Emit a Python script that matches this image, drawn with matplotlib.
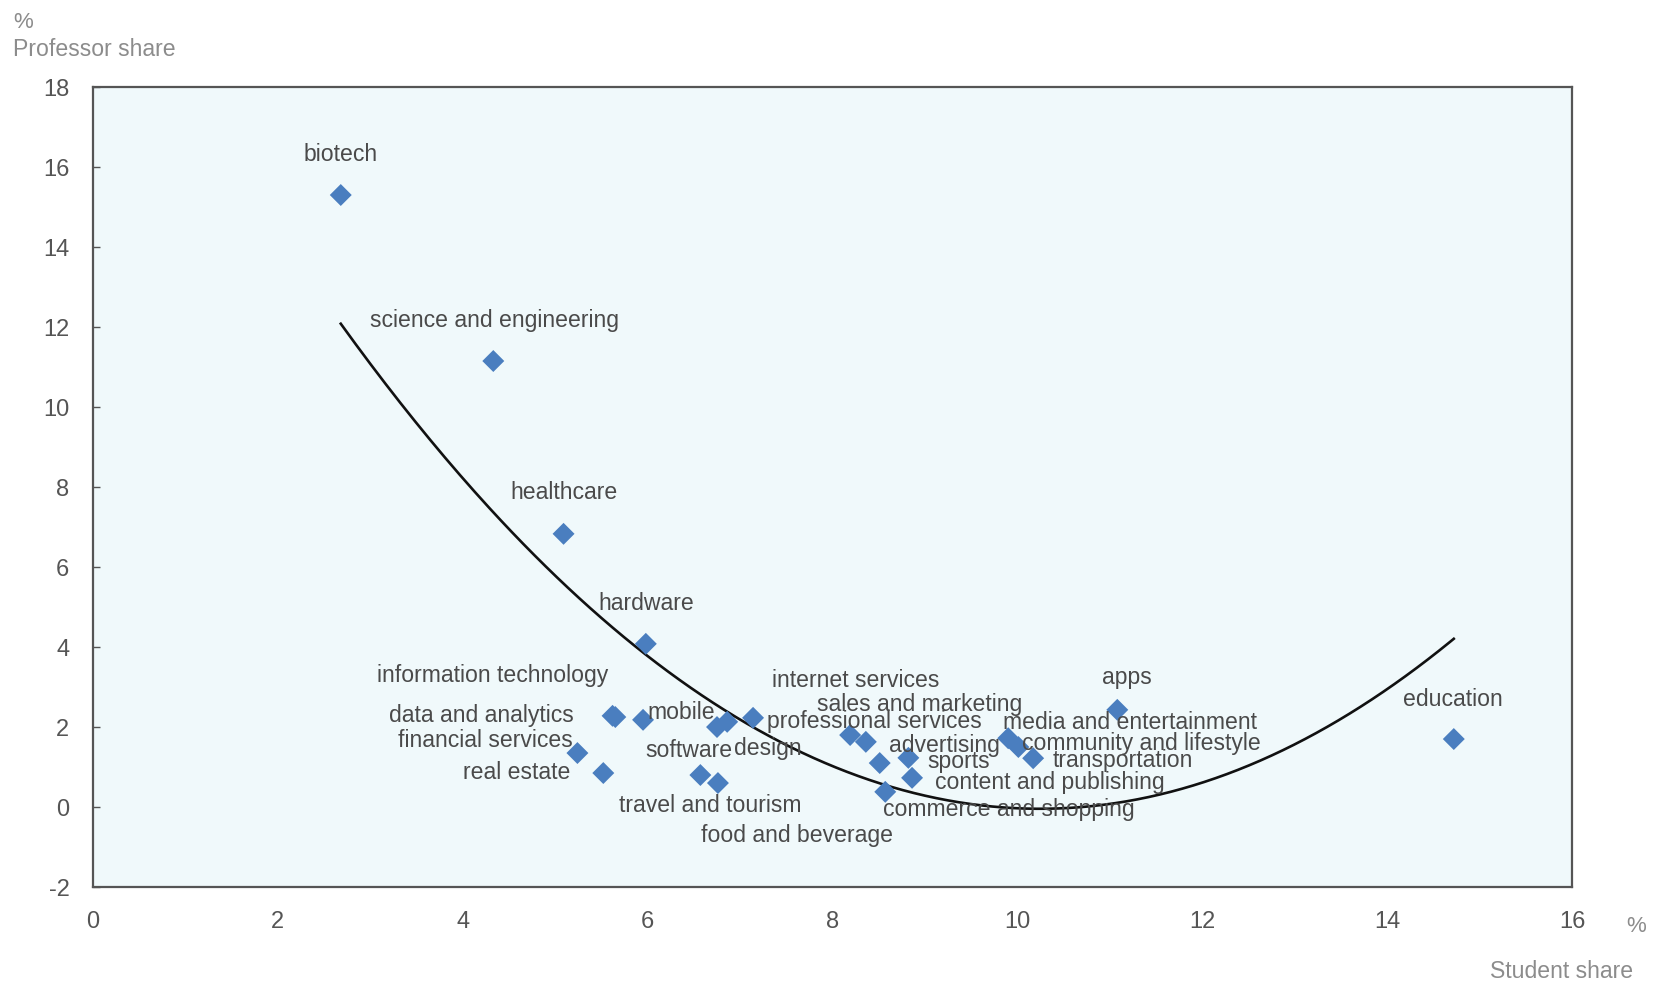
#!/usr/bin/env python3
import matplotlib
matplotlib.use("Agg")
import matplotlib.pyplot as plt
import numpy as np

# sector shares (%)
sectors = [
    "biotech", "science and engineering", "healthcare", "hardware",
    "information technology", "data and analytics", "financial services",
    "real estate", "mobile", "software", "design", "professional services",
    "travel and tourism", "food and beverage", "internet services",
    "sales and marketing", "advertising", "sports", "content and publishing",
    "commerce and shopping", "media and entertainment",
    "community and lifestyle", "transportation", "apps", "education",
]
student_share = [
    2.68, 4.33, 5.09, 5.98,
    5.62, 5.65, 5.24,
    5.52, 5.95, 6.75, 6.86, 7.14,
    6.57, 6.76, 8.19,
    8.36, 8.51, 8.82, 8.86,
    8.57, 9.90,
    10.01, 10.17, 11.08, 14.72,
]
professor_share = [
    15.30, 11.15, 6.83, 4.08,
    2.28, 2.25, 1.35,
    0.85, 2.18, 2.00, 2.13, 2.23,
    0.80, 0.60, 1.80,
    1.63, 1.10, 1.23, 0.73,
    0.38, 1.72,
    1.50, 1.22, 2.43, 1.70,
]
# polynomial trend line as drawn (a*x^2 + b*x + c)
trend_coef = [0.212, -4.343, 22.199]

# label placement: offset in pixels from the marker, and alignment
label_offsets = [
    (0, 41, "center"), (1, 41, "center"), (0, 41, "center"), (0, 40, "center"),
    (-120, 40, "center"), (-42, 2, "right"), (-5, 13, "right"),
    (-33, 1, "right"), (4, 7, "left"), (-28, -23, "center"), (41, -27, "center"),
    (14, -4, "left"),
    (10, -30, "center"), (79, -52, "center"), (6, 55, "center"),
    (54, 37, "center"), (65, 18, "center"), (19, -4, "left"), (23, -5, "left"),
    (-2, -18, "left"), (-5, 16, "left"),
    (4, 4, "left"), (19, -2, "left"), (10, 32, "center"), (-1, 40, "center"),
]

FONT = ["Liberation Sans", "DejaVu Sans"]
plt.rcParams["font.family"] = FONT
plt.rcParams["axes.unicode_minus"] = False

x = np.array(student_share)
y = np.array(professor_share)

fig = plt.figure(figsize=(16.58, 9.82), dpi=100)
ax = fig.add_axes([0.0561, 0.0967, 0.8921, 0.8147])
ax.set_facecolor("#f0f9fb")

# trend drawn over the data range
xs = np.linspace(x.min(), x.max(), 300)
ax.plot(xs, np.polyval(trend_coef, xs), color="#111111", linewidth=1.9, zorder=2)

ax.scatter(x, y, marker="D", s=125, color="#4a7ebf", edgecolors="none", zorder=3)

for name, xi, yi, (dx, dy, ha) in zip(sectors, x, y, label_offsets):
    ax.annotate(
        name,
        (xi, yi),
        textcoords="offset pixels",
        xytext=(dx, dy),
        ha=ha,
        va="center",
        fontsize=16.6,
        color="#4a4a4a",
        zorder=4,
    )

ax.set_xlim(0, 16)
ax.set_ylim(-2, 18)
ax.set_xticks(range(0, 17, 2))
ax.set_yticks(range(-2, 19, 2))
ax.tick_params(axis="x", length=0, pad=17, labelsize=17, labelcolor="#555555")
ax.tick_params(axis="y", direction="in", length=5, width=1, color="#555555",
               pad=17, labelsize=17, labelcolor="#555555")
for spine in ax.spines.values():
    spine.set_color("#555555")
    spine.set_linewidth(1.6)

fig.text(13 / 1658, 1 - 22 / 982, "%", ha="left", va="center",
         fontsize=16, color="#8c8c8c")
fig.text(13 / 1658, 1 - 50 / 982, "Professor share", ha="left", va="center",
         fontsize=16.6, color="#8c8c8c")
fig.text(1636 / 1658, 1 - 927 / 982, "%", ha="center", va="center",
         fontsize=16, color="#8c8c8c")
fig.text(1633 / 1658, 1 - 972 / 982, "Student share", ha="right", va="center",
         fontsize=16.6, color="#8c8c8c")

fig.savefig("out.png", dpi=100, facecolor="white")
plt.close(fig)
